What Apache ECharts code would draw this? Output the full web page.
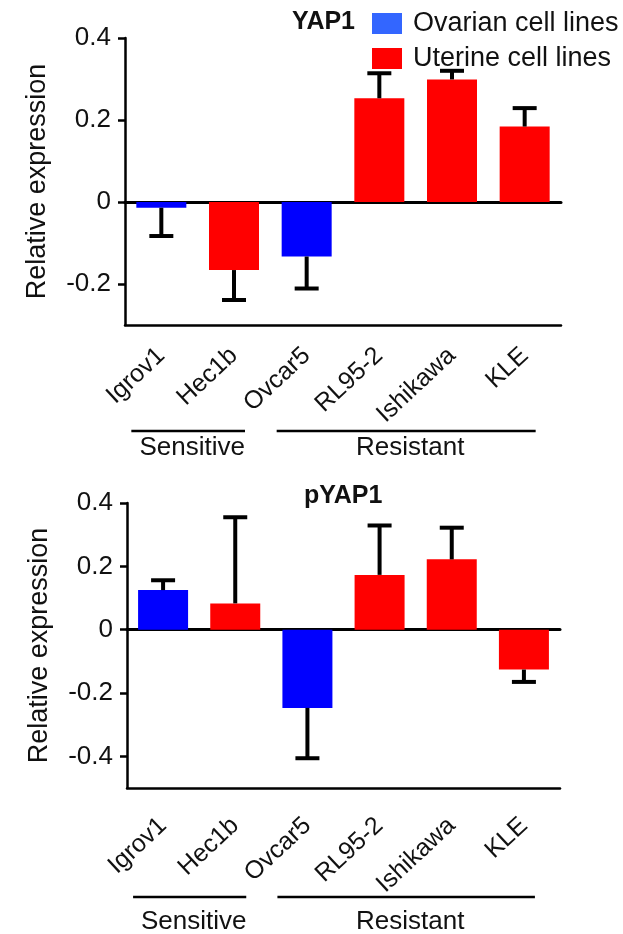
<!DOCTYPE html>
<html>
<head>
<meta charset="utf-8">
<script src="https://cdn.jsdelivr.net/npm/echarts@6/dist/echarts.min.js"></script>
<style>
  html, body { margin: 0; padding: 0; background: #fff; }
  #chart { width: 623px; height: 934px; }
</style>
</head>
<body>
<div id="chart"></div>
<script>
// ---- data ----
const cells = ['Igrov1', 'Hec1b', 'Ovcar5', 'RL95-2', 'Ishikawa', 'KLE']
const cellType = ['ovarian', 'uterine', 'ovarian', 'uterine', 'uterine', 'uterine']

const yap1Values = [-0.014, -0.166, -0.133, 0.253, 0.299, 0.184]
const yap1Errors = [0.069, 0.073, 0.078, 0.061, 0.021, 0.045]
const yap1Ticks = [-0.2, 0, 0.2, 0.4]

const pyap1Values = [0.125, 0.083, -0.247, 0.173, 0.222, -0.126]
const pyap1Errors = [0.031, 0.272, 0.159, 0.156, 0.100, 0.039]
const pyap1Ticks = [-0.4, -0.2, 0, 0.2, 0.4]

const groups = [
    { label: 'Sensitive', first: 0, last: 1 },
    { label: 'Resistant', first: 2, last: 5 }
]

const seriesNames = { ovarian: 'Ovarian cell lines', uterine: 'Uterine cell lines' }
const barColors = { ovarian: '#0000ff', uterine: '#ff0000' }
const legendColors = { ovarian: '#3366ff', uterine: '#ff0000' }

const FONT = "'Liberation Sans', Arial, sans-serif"
const INK = '#111'

// ---- panels ----
const panels = [
    {
        title: 'YAP1', titleLeft: 292, titleTop: 10,
        values: yap1Values, errors: yap1Errors, ticks: yap1Ticks,
        min: -0.3, max: 0.4,
        grid: { left: 125, top: 38, width: 436, height: 287 },
        labelMargin: 27, groupLineGap: 106, groupTextGap: 17
    },
    {
        title: 'pYAP1', titleLeft: 304, titleTop: 484,
        values: pyap1Values, errors: pyap1Errors, ticks: pyap1Ticks,
        min: -0.5, max: 0.4,
        grid: { left: 127, top: 503, width: 433, height: 285 },
        labelMargin: 34, groupLineGap: 109, groupTextGap: 25
    }
]

function fmt(v) {
    return Math.abs(v) < 1e-9 ? '0' : String(+v.toFixed(1))
}

let myChart = echarts.init(document.getElementById('chart'))

let grid = [], xAxis = [], yAxis = [], series = [], title = []

panels.forEach((p, k) => {
    grid.push(p.grid)
    title.push({
        text: p.title, left: p.titleLeft, top: p.titleTop, padding: 0,
        textStyle: { fontFamily: FONT, fontSize: 25, fontWeight: 'bold', color: INK }
    })
    // bottom axis with ticks and names
    xAxis.push({
        type: 'category', gridIndex: k, data: cells, position: 'bottom',
        axisLine: { onZero: false, lineStyle: { color: '#000', width: 2.5 } },
        axisTick: { alignWithLabel: true, length: 7, lineStyle: { color: '#000', width: 2.5 } },
        axisLabel: { rotate: 43, margin: p.labelMargin, fontFamily: FONT, fontSize: 25, color: INK, interval: 0 },
        splitLine: { show: false }
    })
    // zero line
    xAxis.push({
        type: 'category', gridIndex: k, data: cells, position: 'top',
        axisLine: { onZero: true, lineStyle: { color: '#000', width: 3 } },
        axisTick: { show: false }, axisLabel: { show: false }, splitLine: { show: false }
    })
    yAxis.push({
        type: 'value', gridIndex: k, min: p.min, max: p.max,
        name: 'Relative expression', nameLocation: 'middle', nameGap: 74,
        nameTextStyle: { fontFamily: FONT, fontSize: 27, color: INK },
        axisLine: { show: true, onZero: false, lineStyle: { color: '#000', width: 2.5 } },
        axisTick: { show: true, length: 7, customValues: p.ticks, lineStyle: { color: '#000', width: 2.5 } },
        axisLabel: { customValues: p.ticks, formatter: fmt, margin: 14, fontFamily: FONT, fontSize: 26, color: INK },
        splitLine: { show: false }
    })

    // one bar series per cell type, overlapped so each bar sits on its category
    Object.keys(seriesNames).forEach(t => {
        series.push({
            name: seriesNames[t], type: 'bar',
            xAxisIndex: k * 2, yAxisIndex: k,
            barWidth: 50, barGap: '-100%',
            itemStyle: { color: barColors[t] },
            data: p.values.map((v, i) => cellType[i] === t ? v : '-')
        })
    })

    // one-sided error bars
    series.push({
        type: 'custom', xAxisIndex: k * 2, yAxisIndex: k, z: 3,
        encode: { x: 0, y: 1 },
        data: p.values.map((v, i) => [i, v, p.errors[i]]),
        renderItem: (params, api) => {
            const i = api.value(0), v = api.value(1), e = api.value(2)
            const end = v >= 0 ? v + e : v - e
            const a = api.coord([i, v])
            const b = api.coord([i, end])
            const st = { stroke: '#000', lineWidth: 4 }
            return {
                type: 'group',
                children: [
                    { type: 'line', shape: { x1: a[0], y1: a[1], x2: b[0], y2: b[1] }, style: st },
                    { type: 'line', shape: { x1: b[0] - 12, y1: b[1], x2: b[0] + 12, y2: b[1] }, style: st }
                ]
            }
        }
    })
})

let option = {
    animation: false,
    title: title,
    legend: {
        orient: 'vertical', left: 372, top: 10, padding: 0,
        itemWidth: 30, itemHeight: 21, itemGap: 8,
        textStyle: { fontFamily: FONT, fontSize: 27, color: INK, padding: [0, 0, 0, 6] },
        data: Object.keys(seriesNames).map(t => ({
            name: seriesNames[t], icon: 'rect', itemStyle: { color: legendColors[t] }
        }))
    },
    grid: grid,
    xAxis: xAxis,
    yAxis: yAxis,
    series: series
}

myChart.setOption(option)

// group brackets under the category labels (Sensitive / Resistant)
let graphic = []
panels.forEach((p, k) => {
    const axisY = myChart.convertToPixel({ yAxisIndex: k }, p.min)
    const lineY = axisY + p.groupLineGap
    groups.forEach(g => {
        const x1 = myChart.convertToPixel({ xAxisIndex: k * 2 }, g.first) - 30
        const x2 = myChart.convertToPixel({ xAxisIndex: k * 2 }, g.last) + 11
        graphic.push({
            type: 'line', shape: { x1: x1, y1: lineY, x2: x2, y2: lineY },
            style: { stroke: '#000', lineWidth: 2.5 }
        })
        graphic.push({
            type: 'text', x: (x1 + x2) / 2 + 4, y: lineY + p.groupTextGap,
            style: {
                text: g.label, fontFamily: FONT, fontSize: 26, fill: INK,
                align: 'center', verticalAlign: 'middle'
            }
        })
    })
})
myChart.setOption({ graphic: graphic })
</script>
</body>
</html>
